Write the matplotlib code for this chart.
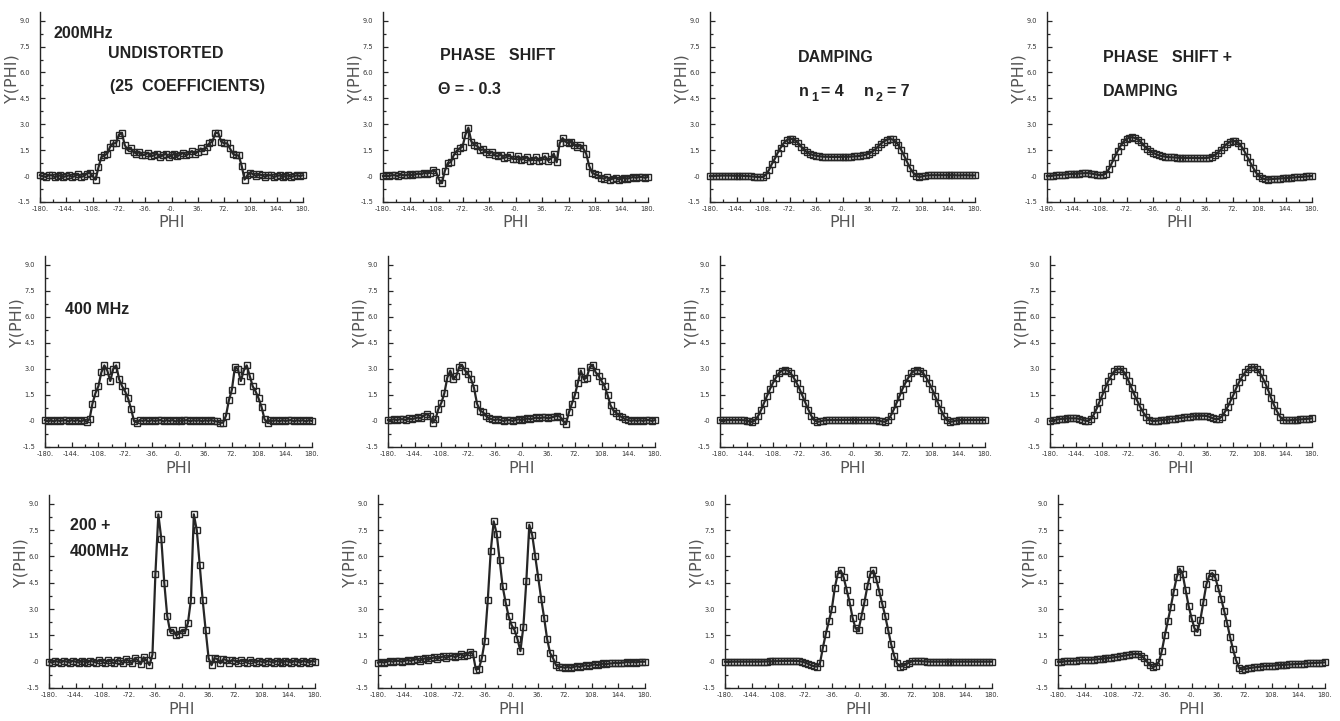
import numpy as np
import matplotlib
matplotlib.use("Agg")
import matplotlib.pyplot as plt
from matplotlib.ticker import FixedLocator, MultipleLocator

W, H = 1340, 721

# sample grid of the plotted curves (degrees)
PHI = np.arange(-180, 181, 4)

# ---- 200 MHz ----
Y_200_UNDIST = [
    0.05, 0.0, -0.05, 0.05, 0.05, -0.05, 0.0, 0.05, -0.05, 0.0,
    0.05, -0.05, 0.0, 0.1, -0.05, 0.0, 0.15, 0.2, 0.0, -0.2,
    0.5, 1.1, 1.2, 1.3, 1.7, 1.9, 1.9, 2.4, 2.5, 1.8,
    1.5, 1.6, 1.4, 1.3, 1.4, 1.2, 1.25, 1.35, 1.15, 1.2,
    1.3, 1.1, 1.2, 1.3, 1.1, 1.2, 1.3, 1.15, 1.25, 1.35,
    1.2, 1.3, 1.45, 1.3, 1.4, 1.6, 1.45, 1.7, 1.9, 2.0,
    2.5, 2.5, 2.0, 1.9, 1.9, 1.6, 1.3, 1.2, 1.2, 0.6,
    -0.2, 0.05, 0.2, 0.1, 0.0, 0.1, 0.05, -0.05, 0.05, 0.05,
    -0.05, 0.0, 0.05, -0.05, 0.0, 0.05, -0.05, 0.0, 0.05, 0.0,
    0.05,
]
Y_200_SHIFT = [
    0.0, 0.05, 0.0, 0.05, 0.05, 0.0, 0.1, 0.05, 0.05, 0.1,
    0.05, 0.1, 0.15, 0.1, 0.2, 0.15, 0.2, 0.35, 0.25, -0.2,
    -0.4, 0.3, 0.75, 0.8, 1.2, 1.45, 1.6, 1.7, 2.4, 2.8,
    2.0, 1.8, 1.75, 1.5, 1.55, 1.4, 1.3, 1.4, 1.2, 1.15,
    1.25, 1.05, 1.1, 1.2, 1.0, 1.0, 1.15, 0.95, 1.0, 1.1,
    0.9, 0.95, 1.1, 0.9, 0.95, 1.15, 0.9, 1.0, 1.3, 0.8,
    1.9, 2.2, 2.0, 1.9, 2.0, 1.8, 1.7, 1.8, 1.6, 1.3,
    0.6, 0.2, 0.1, 0.05, -0.1, -0.15, -0.05, -0.2, -0.15, -0.1,
    -0.2, -0.15, -0.1, -0.15, -0.1, -0.05, -0.1, -0.05, -0.05, -0.1,
    -0.05,
]
Y_200_DAMP = [
    0.0, 0.0, 0.02, 0.02, 0.03, 0.03, 0.03, 0.03, 0.02, 0.02,
    0.02, 0.02, 0.0, 0.0, -0.02, -0.03, -0.05, -0.06, -0.05, 0.08,
    0.35, 0.7, 1.0, 1.35, 1.65, 1.9, 2.07, 2.15, 2.15, 2.05,
    1.9, 1.7, 1.5, 1.38, 1.28, 1.22, 1.18, 1.15, 1.13, 1.12,
    1.12, 1.11, 1.11, 1.11, 1.11, 1.12, 1.12, 1.12, 1.13, 1.14,
    1.15, 1.17, 1.2, 1.25, 1.3, 1.4, 1.52, 1.7, 1.87, 2.0,
    2.1, 2.15, 2.12, 2.0, 1.8, 1.5, 1.15, 0.8, 0.45, 0.2,
    0.02, -0.05, -0.02, 0.02, 0.04, 0.05, 0.05, 0.05, 0.05, 0.05,
    0.05, 0.05, 0.05, 0.05, 0.04, 0.04, 0.05, 0.05, 0.04, 0.04,
    0.04,
]
Y_200_SHIFT_DAMP = [
    0.0, 0.02, 0.03, 0.05, 0.06, 0.08, 0.09, 0.1, 0.12, 0.13,
    0.14, 0.15, 0.16, 0.17, 0.17, 0.15, 0.12, 0.08, 0.05, 0.06,
    0.15, 0.4, 0.75, 1.1, 1.45, 1.75, 2.0, 2.15, 2.23, 2.25,
    2.2, 2.1, 1.95, 1.75, 1.58, 1.45, 1.35, 1.27, 1.2, 1.16,
    1.13, 1.1, 1.09, 1.08, 1.07, 1.06, 1.06, 1.05, 1.05, 1.05,
    1.05, 1.04, 1.04, 1.04, 1.05, 1.07, 1.12, 1.2, 1.35, 1.52,
    1.7, 1.85, 1.97, 2.03, 2.02, 1.92, 1.72, 1.45, 1.12, 0.8,
    0.48, 0.2, 0.0, -0.12, -0.18, -0.2, -0.18, -0.16, -0.15, -0.14,
    -0.13, -0.12, -0.1, -0.09, -0.08, -0.06, -0.05, -0.04, -0.02, -0.01,
    0.0,
]

# ---- 400 MHz ----
Y_400_UNDIST = [
    0.05, 0.0, 0.05, -0.03, 0.05, 0.0, 0.03, 0.05, -0.03, 0.05,
    0.0, 0.05, -0.03, 0.05, -0.05, 0.1, 1.0, 1.6, 2.0, 2.8,
    3.2, 2.9, 2.3, 3.0, 3.2, 2.4, 2.0, 1.7, 1.3, 0.7,
    0.0, -0.1, 0.05, 0.0, 0.05, -0.03, 0.05, 0.0, 0.03, 0.05,
    -0.03, 0.05, 0.0, 0.05, -0.03, 0.05, 0.0, 0.03, 0.05, -0.03,
    0.05, 0.0, 0.05, -0.03, 0.05, 0.0, 0.05, 0.0, -0.03, -0.1,
    -0.1, 0.3, 1.2, 1.8, 3.1, 3.0, 2.3, 2.9, 3.2, 2.6,
    2.0, 1.7, 1.3, 0.8, 0.1, -0.1, 0.05, 0.0, 0.05, -0.03,
    0.05, 0.0, 0.03, 0.05, -0.03, 0.05, 0.0, 0.05, -0.03, 0.05,
    0.0,
]
Y_400_SHIFT = [
    0.05, 0.05, 0.1, 0.05, 0.1, 0.1, 0.05, 0.15, 0.1, 0.15,
    0.2, 0.15, 0.3, 0.4, 0.3, -0.1, 0.1, 0.7, 1.05, 1.6,
    2.5, 2.9, 2.4, 2.6, 3.1, 3.2, 2.9, 2.7, 2.4, 1.9,
    1.0, 0.6, 0.5, 0.3, 0.15, 0.1, 0.05, 0.1, 0.05, 0.0,
    0.05, 0.05, 0.0, 0.05, 0.1, 0.05, 0.1, 0.15, 0.1, 0.15,
    0.2, 0.15, 0.2, 0.2, 0.15, 0.2, 0.25, 0.3, 0.25, 0.0,
    -0.15, 0.5, 1.0, 1.5, 2.2, 2.9, 2.4, 2.5, 3.1, 3.2,
    2.8, 2.6, 2.3, 2.0, 1.5, 0.9, 0.6, 0.45, 0.3, 0.2,
    0.1, 0.05, 0.0, 0.05, 0.0, 0.05, 0.0, 0.05, 0.05, 0.0,
    0.05,
]
Y_400_DAMP = [
    0.05, 0.05, 0.05, 0.05, 0.05, 0.05, 0.05, 0.05, 0.04, 0.02,
    -0.03, -0.05, 0.05, 0.3, 0.65, 1.05, 1.45, 1.85, 2.2, 2.5,
    2.75, 2.9, 2.95, 2.9, 2.75, 2.5, 2.2, 1.85, 1.45, 1.05,
    0.65, 0.3, 0.05, -0.05, -0.03, 0.02, 0.04, 0.05, 0.05, 0.05,
    0.05, 0.05, 0.06, 0.06, 0.06, 0.06, 0.06, 0.05, 0.05, 0.05,
    0.05, 0.05, 0.05, 0.04, 0.02, -0.03, -0.05, 0.05, 0.3, 0.65,
    1.05, 1.45, 1.85, 2.2, 2.5, 2.75, 2.9, 2.95, 2.9, 2.75,
    2.5, 2.2, 1.85, 1.45, 1.05, 0.65, 0.3, 0.05, -0.05, -0.03,
    0.02, 0.04, 0.05, 0.05, 0.05, 0.05, 0.05, 0.05, 0.05, 0.05,
    0.05,
]
Y_400_SHIFT_DAMP = [
    0.0, 0.05, 0.07, 0.1, 0.12, 0.13, 0.15, 0.15, 0.15, 0.15,
    0.12, 0.08, 0.02, 0.0, 0.1, 0.35, 0.7, 1.1, 1.5, 1.9,
    2.3, 2.6, 2.85, 2.97, 3.0, 2.9, 2.65, 2.3, 1.9, 1.5,
    1.15, 0.8, 0.5, 0.25, 0.08, 0.0, 0.0, 0.02, 0.04, 0.06,
    0.08, 0.1, 0.12, 0.14, 0.16, 0.18, 0.2, 0.22, 0.24, 0.26,
    0.28, 0.3, 0.3, 0.3, 0.28, 0.22, 0.15, 0.1, 0.12, 0.25,
    0.5, 0.8, 1.15, 1.5, 1.9, 2.25, 2.55, 2.8, 2.98, 3.08,
    3.1, 3.0, 2.8, 2.5, 2.15, 1.75, 1.3, 0.9, 0.55, 0.25,
    0.08, 0.03, 0.03, 0.05, 0.06, 0.08, 0.09, 0.1, 0.12, 0.13,
    0.15,
]

# ---- 200 + 400 MHz ----
Y_600_UNDIST = [
    0.0, -0.05, 0.05, 0.0, -0.05, 0.05, 0.0, -0.05, 0.05, 0.0,
    -0.05, 0.05, 0.0, -0.05, 0.05, 0.0, -0.05, 0.1, 0.0, -0.1,
    0.1, 0.0, -0.1, 0.1, 0.05, -0.1, 0.15, 0.05, -0.1, 0.2,
    0.1, -0.15, 0.25, 0.1, -0.2, 0.4, 5.0, 8.4, 7.0, 4.5,
    2.6, 1.7, 1.8, 1.5, 1.6, 1.8, 1.7, 2.2, 3.5, 8.4,
    7.5, 5.5, 3.5, 1.8, 0.2, -0.2, 0.2, 0.15, -0.1, 0.15,
    0.1, -0.05, 0.1, 0.05, -0.05, 0.1, 0.0, -0.05, 0.1, 0.0,
    -0.05, 0.05, 0.0, -0.05, 0.05, 0.0, -0.05, 0.05, 0.0, -0.05,
    0.05, 0.0, -0.05, 0.05, 0.0, -0.05, 0.05, 0.0, -0.05, 0.05,
    0.0,
]
Y_600_SHIFT = [
    -0.05, 0.0, -0.05, 0.0, 0.05, 0.0, 0.05, 0.05, 0.0, 0.05,
    0.1, 0.05, 0.1, 0.15, 0.05, 0.15, 0.2, 0.1, 0.2, 0.25,
    0.15, 0.25, 0.3, 0.2, 0.3, 0.35, 0.25, 0.35, 0.45, 0.3,
    0.4, 0.55, 0.45, -0.45, -0.4, 0.2, 1.2, 3.5, 6.3, 8.0,
    7.3, 5.8, 4.3, 3.4, 2.6, 2.1, 1.8, 1.3, 0.6, 2.0,
    4.6, 7.8, 7.2, 6.0, 4.8, 3.6, 2.5, 1.3, 0.5, 0.2,
    -0.2, -0.3, -0.3, -0.35, -0.3, -0.35, -0.3, -0.25, -0.3, -0.25,
    -0.2, -0.25, -0.2, -0.15, -0.2, -0.15, -0.1, -0.15, -0.1, -0.1,
    -0.05, -0.1, -0.05, -0.05, 0.0, -0.05, 0.0, -0.05, 0.0, 0.0,
    0.0,
]
Y_600_DAMP = [
    0.0, 0.0, 0.0, 0.0, 0.0, 0.0, 0.0, 0.0, 0.0, 0.0,
    0.0, 0.0, 0.0, 0.01, 0.01, 0.02, 0.02, 0.03, 0.03, 0.04,
    0.04, 0.05, 0.05, 0.05, 0.04, 0.03, 0.0, -0.05, -0.12, -0.2,
    -0.26, -0.28, -0.1, 0.8, 1.6, 2.3, 3.0, 4.2, 5.0, 5.2,
    4.8, 4.1, 3.4, 2.5, 1.9, 1.8, 2.6, 3.4, 4.3, 5.0,
    5.2, 4.7, 4.0, 3.3, 2.6, 1.8, 1.0, 0.35, -0.1, -0.28,
    -0.25, -0.15, -0.05, 0.02, 0.05, 0.05, 0.03, 0.02, 0.01, 0.0,
    0.0, 0.0, 0.0, 0.0, 0.0, 0.0, 0.0, 0.0, 0.0, 0.0,
    0.0, 0.0, 0.0, 0.0, 0.0, 0.0, 0.0, 0.0, 0.0, 0.0,
    0.0,
]
Y_600_SHIFT_DAMP = [
    0.0, 0.01, 0.02, 0.03, 0.04, 0.05, 0.06, 0.07, 0.08, 0.09,
    0.1, 0.11, 0.12, 0.13, 0.15, 0.17, 0.19, 0.21, 0.23, 0.25,
    0.27, 0.3, 0.33, 0.36, 0.39, 0.42, 0.44, 0.43, 0.35, 0.2,
    0.0, -0.2, -0.3, -0.25, 0.0, 0.6, 1.5, 2.3, 3.1, 4.0,
    4.8, 5.3, 5.0, 4.1, 3.2, 2.5, 1.9, 1.7, 2.4, 3.4,
    4.4, 4.9, 5.05, 4.8, 4.2, 3.6, 2.9, 2.2, 1.4, 0.7,
    0.1, -0.35, -0.45, -0.42, -0.38, -0.35, -0.33, -0.31, -0.29, -0.27,
    -0.25, -0.24, -0.23, -0.22, -0.2, -0.19, -0.18, -0.17, -0.16, -0.15,
    -0.14, -0.13, -0.12, -0.11, -0.1, -0.09, -0.08, -0.07, -0.06, -0.05,
    -0.04,
]

CURVES = [
    [Y_200_UNDIST, Y_200_SHIFT, Y_200_DAMP, Y_200_SHIFT_DAMP],
    [Y_400_UNDIST, Y_400_SHIFT, Y_400_DAMP, Y_400_SHIFT_DAMP],
    [Y_600_UNDIST, Y_600_SHIFT, Y_600_DAMP, Y_600_SHIFT_DAMP],
]

X_TICKS = [-180, -144, -108, -72, -36, 0, 36, 72, 108, 144, 180]
X_TICK_LABELS = ["-180.", "-144.", "-108.", "-72.", "-36.", "-0.",
                 "36.", "72.", "108.", "144.", "180."]
Y_TICKS = [-1.5, 0.0, 1.5, 3.0, 4.5, 6.0, 7.5, 9.0]
Y_TICK_LABELS = ["-1.5", "-0", "1.5", "3.0", "4.5", "6.0", "7.5", "9.0"]

# panel boxes in pixels: (left, right) per column, (top, bottom) per row
ROW_Y = [(12, 202), (256, 447), (495, 688)]
COL_X = [
    [(40, 303), (383, 648), (710, 975), (1047, 1312)],
    [(45, 312), (388, 655), (720, 985), (1050, 1312)],
    [(49, 315), (378, 645), (725, 992), (1058, 1325)],
]

INK = "#262626"
LABEL_FONT = ["Liberation Sans", "DejaVu Sans"]

fig = plt.figure(figsize=(W / 100, H / 100), dpi=100)
fig.patch.set_facecolor("white")

for r in range(3):
    top, bot = ROW_Y[r]
    for c in range(4):
        left, right = COL_X[r][c]
        ax = fig.add_axes([left / W, 1 - bot / H, (right - left) / W, (bot - top) / H])
        y = CURVES[r][c]
        assert len(y) == len(PHI)
        ax.plot(PHI, y, color=INK, lw=1.6, marker="s", ms=3.8, mfc="none",
                mew=1.0, clip_on=False)
        ax.set_xlim(-180, 180)
        ax.set_ylim(-1.5, 9.5)
        for side in ("top", "right"):
            ax.spines[side].set_visible(False)
        for side in ("left", "bottom"):
            ax.spines[side].set_color(INK)
            ax.spines[side].set_linewidth(1.0)
        ax.xaxis.set_major_locator(FixedLocator(X_TICKS))
        ax.set_xticklabels(X_TICK_LABELS)
        ax.xaxis.set_minor_locator(MultipleLocator(18))
        ax.yaxis.set_major_locator(FixedLocator(Y_TICKS))
        ax.set_yticklabels(Y_TICK_LABELS)
        ax.yaxis.set_minor_locator(MultipleLocator(0.75))
        ax.tick_params(which="both", direction="in", color=INK, width=0.9)
        ax.tick_params(which="major", length=3.5)
        ax.tick_params(which="minor", length=2)
        ax.tick_params(axis="x", labelsize=4.8, pad=3, labelcolor="#333333")
        ax.tick_params(axis="y", labelsize=4.8, pad=7, labelcolor="#333333")
        ax.text(-0.105, 0.65, "Y(PHI)", transform=ax.transAxes, rotation=90,
                ha="center", va="center", fontsize=11.5, color="#555555")
        ax.text(0.5, -0.11, "PHI", transform=ax.transAxes, ha="center",
                va="center", fontsize=11.5, color="#555555")


def note(x, y, s, size=11.5):
    fig.text(x / W, 1 - y / H, s, ha="left", va="center", fontsize=size,
             fontweight="bold", color="#222222", family=LABEL_FONT)


note(53, 33, "200MHz")
note(108, 53, "UNDISTORTED")
note(110, 87, "(25  COEFFICIENTS)")

note(440, 55, "PHASE   SHIFT")
note(438, 90, "\u0398 = - 0.3")

note(798, 57, "DAMPING")
note(799, 92, "n")
note(811, 98, "1", size=9)
note(821, 91, "= 4")
note(864, 92, "n")
note(876, 98, "2", size=9)
note(887, 91, "= 7")

note(1103, 58, "PHASE   SHIFT +")
note(1103, 92, "DAMPING")

note(65, 310, "400 MHz")

note(70, 526, "200 +")
note(70, 552, "400MHz")

fig.savefig("out.png", dpi=100, facecolor="white")
